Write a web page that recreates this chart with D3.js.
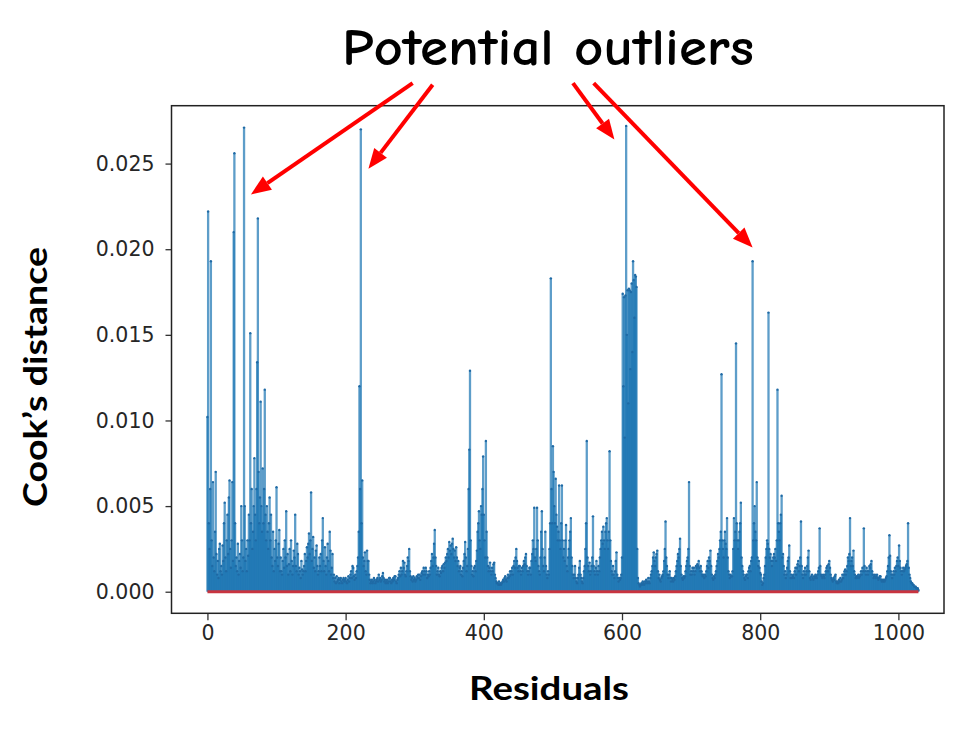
<html>
<script src='https://d3js.org/d3.v7.min.js'></script>
<style>
body { margin: 0; background: white; }
</style>
<body>
<svg width=976 height=738></svg>
<script>
// Cook's distance for each observation, in units of 1e-4 (271 -> 0.0271)
const cooksE4 = [
  102,222,40,25,60,193,30,15,64,20,12,35,70,22,10,18,8,25,28,12,
  15,10,27,18,40,52,20,12,30,45,22,55,65,25,14,30,64,18,210,256,
  40,15,20,12,28,10,18,22,14,50,30,12,20,271,50,18,25,12,30,21,
  45,30,151,40,60,25,35,50,78,45,30,60,134,218,70,40,55,111,50,35,
  72,40,60,118,45,30,50,35,25,40,55,30,45,20,15,35,12,25,18,30,
  61,20,15,28,36,12,20,12,10,18,25,14,30,20,47,15,22,10,16,25,
  12,30,18,10,15,24,20,45,15,12,28,22,10,14,12,8,18,13,10,12,
  15,22,12,18,26,20,28,34,22,30,58,18,25,32,14,20,12,24,27,15,
  10,12,20,15,22,12,30,43,18,12,26,15,10,20,28,18,12,35,24,10,
  14,22,8,10,6,8,5,9,6,7,8,5,7,8,6,5,7,8,6,7,
  8,6,5,7,9,6,8,10,12,8,15,14,9,7,10,8,12,15,20,35,
  120,60,270,40,65,20,15,18,23,12,10,24,18,18,10,7,5,6,7,5,
  6,8,7,5,6,7,8,6,10,7,8,6,7,9,11,8,6,7,5,6,
  7,5,6,8,8,6,5,7,6,8,7,9,9,6,5,7,8,10,12,9,
  14,10,12,18,14,17,10,9,12,15,20,18,25,12,9,7,8,6,9,7,
  8,6,7,9,8,10,8,10,7,9,11,12,10,14,12,10,14,12,8,10,
  9,12,10,14,18,22,15,20,28,36,20,15,10,12,14,10,9,12,11,14,
  15,12,16,14,17,20,18,22,25,20,29,24,27,22,28,31,25,20,24,18,
  26,20,15,18,12,14,15,10,12,9,14,18,22,29,20,12,15,25,60,83,
  129,30,15,10,12,9,14,15,12,18,24,35,40,47,30,25,50,45,60,79,
  45,30,20,88,35,20,15,12,14,17,12,10,14,12,16,17,10,8,6,5,
  5,4,6,4,5,4,5,6,7,6,8,9,7,6,8,10,8,9,12,10,
  12,14,10,15,18,14,20,25,18,14,12,15,15,12,10,14,12,15,18,16,
  20,22,15,12,10,12,14,14,10,18,22,30,25,49,20,18,25,49,30,15,
  12,10,20,35,47,25,15,12,20,35,15,10,8,12,10,25,40,183,60,40,
  85,70,50,40,66,45,38,30,35,62,30,25,40,62,30,20,25,18,30,39,
  15,12,20,25,30,35,43,20,15,10,8,10,15,8,6,5,8,10,14,18,
  10,8,6,5,8,12,15,25,40,88,20,15,12,17,10,12,15,20,44,15,
  12,10,14,18,12,10,15,12,20,25,30,35,28,38,30,25,35,40,43,30,
  25,35,82,30,18,12,10,15,10,8,12,18,23,10,8,6,8,7,8,10,
  20,174,120,172,90,173,272,150,176,110,177,176,130,175,180,140,193,182,160,185,
  184,178,25,8,5,4,3,4,5,4,6,5,4,6,5,7,6,5,8,6,
  5,8,10,12,15,20,23,18,15,20,22,24,12,8,10,7,6,8,9,10,
  12,18,25,41,20,15,10,8,10,12,8,6,8,7,6,8,7,9,12,15,
  18,22,20,25,31,15,10,8,7,9,8,9,12,15,18,20,25,64,15,10,
  12,10,14,12,14,10,12,15,14,16,15,18,14,12,15,12,10,9,10,8,
  10,9,12,15,18,14,20,18,24,15,10,8,7,9,8,10,12,15,18,22,
  20,25,30,35,127,30,25,20,30,35,28,25,43,20,12,10,8,10,9,9,
  12,25,43,30,35,145,40,30,25,30,35,40,52,20,15,12,10,8,7,9,
  10,10,8,12,14,15,12,18,20,193,30,40,50,35,30,64,20,15,18,14,
  11,10,6,4,5,8,10,15,20,25,30,28,163,25,20,22,18,15,18,20,
  22,20,25,18,30,118,40,35,30,40,45,56,20,22,15,10,12,8,10,14,
  18,20,27,12,8,10,8,9,10,8,12,14,10,14,16,18,12,15,20,41,
  15,10,8,12,10,14,10,12,15,20,24,12,8,7,9,10,8,7,9,8,
  10,9,8,10,12,14,37,15,10,9,8,10,9,8,10,12,14,15,12,16,
  18,14,10,8,7,6,8,7,9,10,6,5,6,5,7,6,8,6,7,10,
  8,10,12,13,10,12,15,20,18,22,43,15,18,20,15,24,12,10,8,9,
  8,9,10,8,9,10,12,10,14,12,37,15,12,10,14,12,10,12,15,14,
  16,18,12,10,8,9,10,8,9,10,8,7,8,9,9,7,6,7,6,7,
  6,7,8,9,12,15,20,33,21,12,10,8,10,12,10,14,12,15,18,20,
  15,27,18,14,12,10,12,14,12,13,14,15,16,18,40,14,10,8,6,5,
  5,4,4,3,3,3,2,2,2,1
];

const xTicks = [0, 200, 400, 600, 800, 1000];
const yTicks = [0, 50, 100, 150, 200, 250];   // 1e-4 units

const title = "Potential outliers";
const xLabel = "Residuals";
const yLabel = "Cook\u2019s distance";

// annotation arrows, in data units: [fromIndex, fromValue, toIndex, toValue]
const arrows = [
  [297, 297, 63, 232],
  [326, 296, 233, 247],
  [529, 297, 589, 264],
  [559, 297, 789, 201]
];

const svg = d3.select("svg");

const x = d3.scaleLinear().domain([-52, 1066]).range([171.5, 944]);
const y = d3.scaleLinear().domain([-12.6, 283.8]).range([613.3, 105.7]);

// stems
const stems = svg.append("g");
stems.selectAll("line")
  .data(cooksE4)
  .enter()
  .append("line")
  .attr("x1", (d, i) => x(i))
  .attr("x2", (d, i) => x(i))
  .attr("y1", y(0))
  .attr("y2", d => y(d))
  .attr("stroke", "#1f77b4")
  .attr("stroke-opacity", 0.72)
  .attr("stroke-width", 2.3);

stems.selectAll("circle")
  .data(cooksE4)
  .enter()
  .append("circle")
  .attr("cx", (d, i) => x(i))
  .attr("cy", d => y(d))
  .attr("r", 1.2)
  .attr("fill", "#1f6aa5");

// baseline
svg.append("line")
  .attr("x1", x(0))
  .attr("x2", x(cooksE4.length - 1))
  .attr("y1", y(0))
  .attr("y2", y(0))
  .attr("stroke", "#c8343f")
  .attr("stroke-width", 3);

// axes
const yAxis = svg.append("g")
  .attr("transform", "translate(171.5,0)")
  .call(d3.axisLeft(y).tickValues(yTicks).tickSize(6).tickPadding(11)
    .tickFormat(d => (d / 1e4).toFixed(3)));

const xAxis = svg.append("g")
  .attr("transform", "translate(0,613.3)")
  .call(d3.axisBottom(x).tickValues(xTicks).tickSize(7).tickPadding(5)
    .tickFormat(d3.format("d")));

[xAxis, yAxis].forEach(a => {
  a.select(".domain").remove();
  a.selectAll("line").attr("stroke", "#333").attr("stroke-width", 1.3);
  a.selectAll("text")
    .style("font-family", "'DejaVu Sans', sans-serif")
    .style("font-size", "20.5px")
    .attr("fill", "#262626");
});

// frame
svg.append("rect")
  .attr("x", 171.5).attr("y", 105.7)
  .attr("width", 944 - 171.5).attr("height", 613.3 - 105.7)
  .attr("fill", "none")
  .attr("stroke", "#222")
  .attr("stroke-width", 1.5);

// labels
svg.append("text")
  .attr("x", 549).attr("y", 700)
  .attr("text-anchor", "middle")
  .attr("textLength", 160).attr("lengthAdjust", "spacingAndGlyphs")
  .style("font-family", "Lato, 'Open Sans', sans-serif")
  .style("font-weight", "bold")
  .style("font-size", "33px")
  .text(xLabel);

svg.append("text")
  .attr("transform", "translate(47,377) rotate(-90)")
  .attr("text-anchor", "middle")
  .attr("textLength", 260).attr("lengthAdjust", "spacingAndGlyphs")
  .style("font-family", "Lato, 'Open Sans', sans-serif")
  .style("font-weight", "bold")
  .style("font-size", "32px")
  .text(yLabel);

svg.append("text")
  .attr("x", 548).attr("y", 65)
  .attr("text-anchor", "middle")
  .attr("textLength", 412).attr("lengthAdjust", "spacingAndGlyphs")
  .style("font-family", "'Comic Sans MS', 'Comic Neue', 'DejaVu Sans', sans-serif")
  .style("font-weight", "bold")
  .style("font-size", "52px")
  .text(title);

// arrows
const headLen = 20, headHalf = 8;
arrows.forEach(([fi, fv, ti, tv]) => {
  const x0 = x(fi), y0 = y(fv), x1 = x(ti), y1 = y(tv);
  const ang = Math.atan2(y1 - y0, x1 - x0);
  const bx = x1 - headLen * Math.cos(ang), by = y1 - headLen * Math.sin(ang);
  svg.append("line")
    .attr("x1", x0).attr("y1", y0).attr("x2", bx).attr("y2", by)
    .attr("stroke", "#ff0000").attr("stroke-width", 4);
  const px = -Math.sin(ang) * headHalf, py = Math.cos(ang) * headHalf;
  svg.append("path")
    .attr("d", `M${x1},${y1}L${bx + px},${by + py}L${bx - px},${by - py}Z`)
    .attr("fill", "#ff0000");
});
</script>
</body>
</html>
